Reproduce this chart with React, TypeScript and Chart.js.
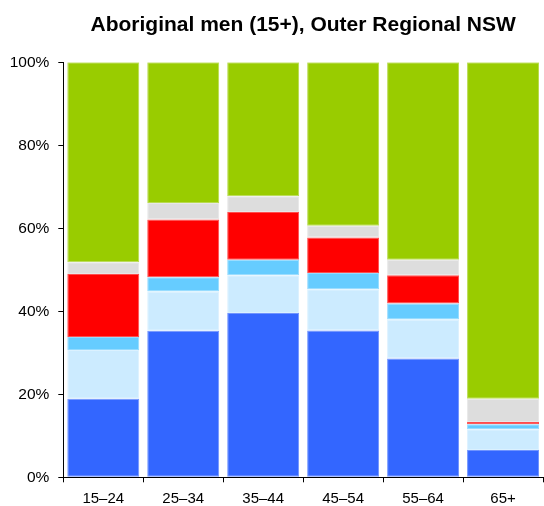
import React, { useEffect, useRef } from "react";
import { Chart, registerables } from "chart.js";

Chart.register(...registerables);

const categories = ["15–24", "25–34", "35–44", "45–54", "55–64", "65+"];

const fullTime = [18.9, 35.3, 39.6, 35.4, 28.6, 6.6];
const partTime = [11.8, 9.5, 9.1, 9.9, 9.4, 5.0];
const awayFromWork = [3.1, 3.4, 3.7, 3.9, 3.9, 1.2];
const unemployed = [15.2, 13.9, 11.5, 8.6, 6.8, 0.5];
const notStated = [2.8, 4.0, 3.8, 2.8, 3.7, 5.6];
const notInLabourForce = [48.2, 33.9, 32.3, 39.4, 47.6, 81.1];

const yTicks = [0, 20, 40, 60, 80, 100];

const titleText = "Aboriginal men (15+), Outer Regional NSW";

const FONT = "'Liberation Sans', Arial, Helvetica, sans-serif";

function tint(hex: string, f: number) {
  const n = parseInt(hex.slice(1), 16);
  const r = (n >> 16) & 255, g = (n >> 8) & 255, b = n & 255;
  const m = (c: number) => Math.round(c + (255 - c) * f);
  return `rgb(${m(r)},${m(g)},${m(b)})`;
}

export default function App() {
  const ref = useRef<HTMLCanvasElement | null>(null);

  useEffect(() => {
    if (!ref.current) return;
    const mk = (label: string, data: number[], color: string) => ({
      label,
      data,
      backgroundColor: color,
      borderColor: tint(color, 0.3),
      borderWidth: 1,
      borderSkipped: false as const,
      barPercentage: 0.9,
      categoryPercentage: 1.0,
    });
    const chart = new Chart(ref.current, {
      type: "bar",
      data: {
        labels: categories,
        datasets: [
          mk("Employed full-time", fullTime, "#3366FF"),
          mk("Employed part-time", partTime, "#CCEBFF"),
          mk("Employed, away from work", awayFromWork, "#66CCFF"),
          mk("Unemployed", unemployed, "#FF0000"),
          mk("Not stated", notStated, "#DDDDDD"),
          mk("Not in the labour force", notInLabourForce, "#99CC00"),
        ],
      },
      options: {
        responsive: false,
        animation: false,
        layout: { padding: { left: 0, right: 1, top: 0, bottom: 0 } },
        plugins: {
          legend: { display: false },
          tooltip: { enabled: false },
          title: {
            display: true,
            text: titleText,
            fullSize: false,
            color: "#000",
            font: { family: FONT, size: 21, weight: "bold" },
            padding: { top: 12.4, bottom: 24.7 },
          },
        },
        scales: {
          x: {
            stacked: true,
            border: { display: true, color: "#000", width: 1 },
            grid: {
              display: true,
              offset: true,
              drawOnChartArea: false,
              drawTicks: true,
              tickLength: 5,
              color: "#000",
            },
            ticks: {
              color: "#000",
              font: { family: FONT, size: 15 },
              padding: 8,
              maxRotation: 0,
            },
            afterFit: (s: any) => {
              s.height = 28.7;
            },
          },
          y: {
            stacked: true,
            min: 0,
            max: 100,
            border: { display: true, color: "#000", width: 1 },
            grid: {
              display: true,
              drawOnChartArea: false,
              drawTicks: true,
              tickLength: 5,
              color: "#000",
            },
            afterBuildTicks: (s: any) => {
              s.ticks = yTicks.map((v) => ({ value: v }));
            },
            ticks: {
              color: "#000",
              font: { family: FONT, size: 15.5 },
              padding: 9,
              callback: (v: any) => v + "%",
            },
            afterFit: (s: any) => {
              s.width = 63.3;
            },
          },
        },
      },
    });
    return () => chart.destroy();
  }, []);

  return (
    <div style={{ position: "absolute", left: 0, top: 0, width: 544, height: 506 }}>
      <canvas ref={ref} width={544} height={506} style={{ display: "block" }} />
    </div>
  );
}
